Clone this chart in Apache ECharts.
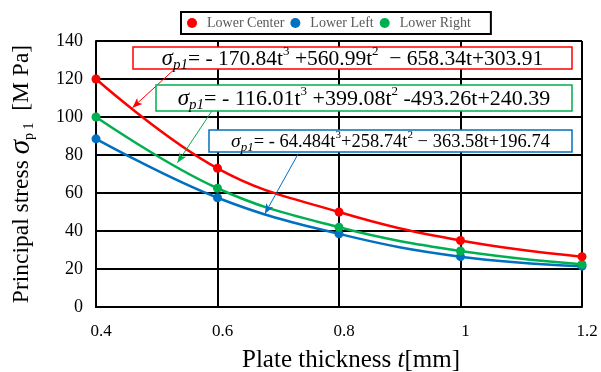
<!DOCTYPE html>
<html>
<head>
  <meta charset="utf-8" />
  <title>Principal stress vs plate thickness</title>
  <script src="https://cdn.jsdelivr.net/npm/echarts@6/dist/echarts.min.js"></script>
  <style>
    html, body { margin: 0; padding: 0; background: #fff; }
  </style>
</head>
<body>
<div id="main" style="width: 601px;height:372px;"></div>
<script type="text/javascript">
  // data
  var thickness = [0.4, 0.6, 0.8, 1.0, 1.2];
  var lowerCenter = [120, 73, 50, 35, 26.5];
  var lowerLeft = [88.5, 57.5, 38.5, 26.5, 21.5];
  var lowerRight = [100, 62.5, 42, 29.5, 22.5];
  var seriesNames = ['Lower Center', 'Lower Left', 'Lower Right'];
  var seriesColors = ['#ff0000', '#0070c0', '#00b050'];

  // fitted equations shown in the boxes
  var eqRed = '{s|σ}{sub|p1}= - 170.84t{sup|3} +560.99t{sup|2}  − 658.34t+303.91';
  var eqGreen = '{s|σ}{sub|p1}= - 116.01t{sup|3} +399.08t{sup|2} -493.26t+240.39';
  var eqBlue = '{s|σ}{sub|p1}= - 64.484t{sup|3}+258.74t{sup|2} − 363.58t+196.74';

  // arrows: [from, to] in data units
  var arrowRed = [[0.530, 125.4], [0.460, 104.9]];
  var arrowGreen = [[0.591, 103.3], [0.534, 75.9]];
  var arrowBlue = [[0.733, 80.7], [0.678, 49.1]];

  var serif = '"Liberation Serif", "Times New Roman", serif';

  function pairs(xs, ys) {
    var out = [];
    for (var i = 0; i < xs.length; i++) out.push([xs[i], ys[i]]);
    return out;
  }

  function eqRich(size) {
    return {
      s: { fontFamily: serif, fontStyle: 'italic', fontSize: size + 1, lineHeight: size + 6 },
      sub: { fontFamily: serif, fontStyle: 'italic', fontSize: Math.round(size * 0.68), verticalAlign: 'bottom', lineHeight: size + 2 },
      sup: { fontFamily: serif, fontSize: Math.round(size * 0.6), verticalAlign: 'top', lineHeight: size + 4 }
    };
  }

  function eqBox(x, y, w, h, color, text, size) {
    return [
      {
        type: 'rect', z: 100,
        shape: { x: x, y: y, width: w, height: h },
        style: { fill: '#fff', stroke: color, lineWidth: 1.5 }
      },
      {
        type: 'text', z: 101,
        x: x + w / 2, y: y + h / 2 + 1,
        style: {
          text: text, fill: '#000', fontFamily: serif, fontSize: size,
          lineHeight: size + 6,
          align: 'center', verticalAlign: 'middle',
          rich: eqRich(size)
        }
      }
    ];
  }

  function arrow(a, color) {
    return {
      silent: true,
      symbol: ['none', 'arrow'],
      symbolSize: [6, 10],
      label: { show: false },
      lineStyle: { color: color, width: 1, type: 'solid' },
      data: [[{ coord: a[0] }, { coord: a[1] }]]
    };
  }

  function lineSeries(name, ys, color, ml, z) {
    return {
      name: name, type: 'line',
      smooth: 0.4,
      data: pairs(thickness, ys),
      symbol: 'circle', symbolSize: 9, z: z,
      itemStyle: { color: color },
      lineStyle: { color: color, width: 2.5 },
      markLine: arrow(ml, color)
    };
  }

  var myChart = echarts.init(document.getElementById('main'));
  var option = {
    animation: false,
    backgroundColor: '#fff',
    grid: { left: 96, right: 19, top: 41, bottom: 65, outerBoundsMode: 'none' },
    legend: {
      data: seriesNames,
      left: 181, top: 12,
      icon: 'circle',
      itemWidth: 20, itemHeight: 10,
      itemGap: 6,
      padding: [4, 20, 4, 6],
      borderColor: '#000', borderWidth: 2,
      textStyle: { fontFamily: serif, fontSize: 14, color: '#595959' }
    },
    xAxis: {
      type: 'value',
      min: 0.4, max: 1.2, interval: 0.2,
      name: 'Plate thickness {i|t}[mm]',
      nameLocation: 'middle',
      nameGap: 41,
      nameTextStyle: {
        fontFamily: serif, fontSize: 25, color: '#000', padding: [0, 0, 0, 24],
        rich: { i: { fontFamily: serif, fontStyle: 'italic', fontSize: 25 } }
      },
      axisLine: { lineStyle: { color: '#000', width: 2 } },
      axisTick: { show: false },
      axisLabel: { fontFamily: serif, fontSize: 17, color: '#000', margin: 16, padding: [0, 0, 0, 10] },
      splitLine: { show: true, lineStyle: { color: '#000', width: 2 } }
    },
    yAxis: {
      type: 'value',
      min: 0, max: 140, interval: 20,
      name: 'Principal stress {s|σ}{sub|p 1}  [M Pa]',
      nameLocation: 'middle',
      nameRotate: 90,
      nameGap: 60,
      nameTextStyle: {
        fontFamily: serif, fontSize: 23.5, color: '#000',
        rich: {
          s: { fontFamily: serif, fontStyle: 'italic', fontSize: 29 },
          sub: { fontFamily: serif, fontSize: 14, verticalAlign: 'bottom', lineHeight: 22 }
        }
      },
      axisLine: { show: true, lineStyle: { color: '#000', width: 2 } },
      axisTick: { show: false },
      axisLabel: { fontFamily: serif, fontSize: 18, color: '#000', margin: 13 },
      splitLine: { show: true, lineStyle: { color: '#000', width: 2 } }
    },
    series: [
      lineSeries(seriesNames[0], lowerCenter, seriesColors[0], arrowRed, 4),
      lineSeries(seriesNames[1], lowerLeft, seriesColors[1], arrowBlue, 2),
      lineSeries(seriesNames[2], lowerRight, seriesColors[2], arrowGreen, 3)
    ],
    graphic: [].concat(
      eqBox(133, 47, 439, 22, seriesColors[0], eqRed, 21.5),
      eqBox(156, 85, 416, 26, seriesColors[2], eqGreen, 22),
      eqBox(209, 130, 363, 22, seriesColors[1], eqBlue, 18.5)
    )
  };
  myChart.setOption(option);
</script>
</body>
</html>
